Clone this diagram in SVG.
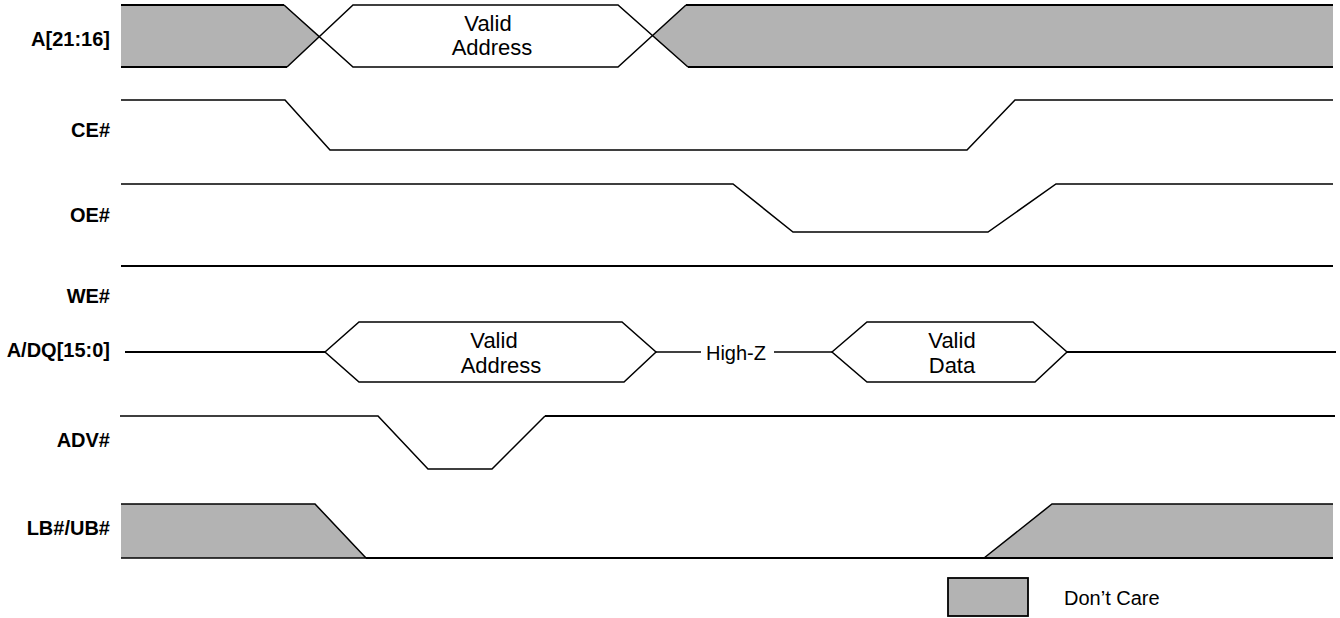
<svg xmlns="http://www.w3.org/2000/svg" width="1340" height="618" viewBox="0 0 1340 618">
<style>
.lbl{font-family:"Liberation Sans",Arial,sans-serif;font-weight:bold;font-size:20px;fill:#000;text-anchor:end}
.txt{font-family:"Liberation Sans",Arial,sans-serif;font-size:22px;fill:#000;text-anchor:middle}
.sm{font-family:"Liberation Sans",Arial,sans-serif;font-size:20px;fill:#000}
.w{fill:none;stroke:#000;stroke-width:1.5;stroke-linejoin:miter}
.t{fill:none;stroke:#000;stroke-width:2.2}
.dc{fill:#b3b3b3;stroke:none}
</style>
<rect width="1340" height="618" fill="#fff"/>

<g id="sig-a2116">
<text class="lbl" x="110" y="46">A[21:16]</text>
<polygon class="dc" points="121,5 284,5 320,36 287,67 121,67"/>
<polygon class="dc" points="652,36 686,5 1333,5 1333,67 688,67"/>
<polyline class="t" points="121,5 284,5"/>
<polyline class="t" points="121,67 287,67"/>
<polyline class="w" points="284,5 353,67 618,67 686,5"/>
<polyline class="w" points="287,67 353,5 618,5 688,67"/>
<polyline class="t" points="686,5 1333,5"/>
<polyline class="t" points="688,67 1333,67"/>
<text class="txt" x="488" y="31">Valid</text>
<text class="txt" x="492" y="55">Address</text>
</g>

<g id="sig-ce">
<text class="lbl" x="110" y="137">CE#</text>
<polyline class="w" points="121,100 285,100 330,150 967,150 1015,100 1333,100"/>
</g>

<g id="sig-oe">
<text class="lbl" x="110" y="222">OE#</text>
<polyline class="w" points="121,184 733,184 793,232 988,232 1056,184 1333,184"/>
</g>

<g id="sig-we">
<text class="lbl" x="110" y="303">WE#</text>
<line class="t" x1="121" y1="266" x2="1333" y2="266"/>
</g>

<g id="sig-adq">
<text class="lbl" x="110" y="357">A/DQ[15:0]</text>
<line class="t" x1="125" y1="352" x2="325" y2="352"/>
<polygon class="w" points="325,352 359,322 622,322 656,352 624,382 359,382"/>
<line class="w" x1="656" y1="352" x2="701" y2="352"/>
<text class="sm" x="736" y="360" text-anchor="middle">High-Z</text>
<line class="w" x1="774" y1="352" x2="832" y2="352"/>
<polygon class="w" points="832,352 867,322 1033,322 1067,352 1035,382 867,382"/>
<line class="t" x1="1067" y1="352" x2="1336" y2="352"/>
<text class="txt" x="494" y="348">Valid</text>
<text class="txt" x="501" y="373">Address</text>
<text class="txt" x="952" y="348">Valid</text>
<text class="txt" x="952" y="373">Data</text>
</g>

<g id="sig-adv">
<text class="lbl" x="110" y="447">ADV#</text>
<polyline class="w" points="120,416 378,416 428,469 492,469 545,416"/>
<line class="t" x1="545" y1="416" x2="1335" y2="416"/>
</g>

<g id="sig-lbub">
<text class="lbl" x="110" y="535">LB#/UB#</text>
<polygon class="dc" points="121,504 315,504 366,558 121,558"/>
<polygon class="dc" points="984,558 1052,504 1333,504 1333,558"/>
<polyline class="w" points="121,504 315,504 366,558"/>
<line class="w" x1="121" y1="558" x2="366" y2="558"/>
<line class="t" x1="366" y1="558" x2="1333" y2="558"/>
<polyline class="w" points="984,558 1052,504 1333,504"/>
</g>

<g id="legend">
<rect x="948" y="578" width="80" height="38" fill="#b3b3b3" stroke="#000" stroke-width="1.8"/>
<text class="sm" x="1064" y="605">Don’t Care</text>
</g>
</svg>
